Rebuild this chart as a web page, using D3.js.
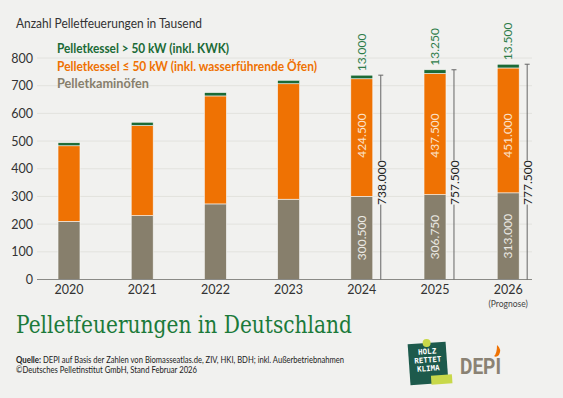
<!DOCTYPE html>
<html>
<head>
<meta charset="utf-8">
<script src="https://cdn.jsdelivr.net/npm/d3@7"></script>
<style>
  body { margin: 0; background: #f1f1ef; }
  svg { display: block; font-family: Lato, "Open Sans", sans-serif; }
</style>
</head>
<body>
<svg width="563" height="398"></svg>
<script>
// Data (thousand units)
const years = ["2020", "2021", "2022", "2023", "2024", "2025", "2026"];
const kaminoefen = [210, 231, 273, 290, 300.5, 306.75, 313];
const kesselSmall = [273, 325, 390, 417, 424.5, 437.5, 451];
const kesselBig = [11, 12, 12, 12.5, 13, 13.25, 13.5];
const yTicks = [0, 100, 200, 300, 400, 500, 600, 700, 800];
// years that get value labels
const labelled = ["2024", "2025", "2026"];

const svg = d3.select("svg");
const colGreen = "#1b6a36";
const colOrange = "#ef7203";
const colGrey = "#877f6c";

// German thousands style: 300.5 -> "300.500"
const de = (v) => {
  const n = Math.round(v * 1000);
  return d3.format(",")(n).replace(/,/g, ".");
};

const rows = years.map((y, i) => ({
  year: y,
  grey: kaminoefen[i],
  orange: kesselSmall[i],
  green: kesselBig[i],
  total: kaminoefen[i] + kesselSmall[i] + kesselBig[i]
}));

const x = d3.scaleBand()
  .domain(years)
  .range([32.4, 544.8])
  .paddingInner(0.7)
  .paddingOuter(0.35);

const y = d3.scaleLinear()
  .domain([0, 800])
  .range([279.5, 58]);

// gridlines
svg.append("g")
  .selectAll("line")
  .data(yTicks.slice(1))
  .enter()
  .append("line")
  .attr("x1", 37)
  .attr("x2", 532)
  .attr("y1", d => y(d))
  .attr("y2", d => y(d))
  .attr("stroke", "#e2e2de")
  .attr("stroke-width", 1);

// y axis labels
const yAxis = d3.axisLeft(y).tickValues(yTicks).tickSize(0).tickPadding(0);
svg.append("g")
  .attr("transform", "translate(33,0)")
  .call(yAxis)
  .call(g => g.select(".domain").remove())
  .call(g => g.selectAll("text")
    .attr("font-size", 12.5)
    .attr("fill", "#333")
    .attr("font-family", "Lato, sans-serif"));

// stacked bars
const stack = d3.stack().keys(["grey", "orange", "green"])(rows);
const colors = { grey: colGrey, orange: colOrange, green: colGreen };

svg.append("g")
  .selectAll("g")
  .data(stack)
  .enter()
  .append("g")
  .attr("fill", d => colors[d.key])
  .selectAll("rect")
  .data(d => d)
  .enter()
  .append("rect")
  .attr("x", d => x(d.data.year))
  .attr("width", x.bandwidth())
  .attr("y", d => y(d[1]))
  .attr("height", d => y(d[0]) - y(d[1]))
  .attr("stroke", "#f6f6f4")
  .attr("stroke-width", 0.6);

// x axis
const xAxis = d3.axisBottom(x).tickSize(0).tickPadding(6);
svg.append("g")
  .attr("transform", `translate(0, ${y(0)})`)
  .call(xAxis)
  .call(g => g.select(".domain").remove())
  .call(g => g.selectAll("text")
    .attr("font-size", 12.5)
    .attr("fill", "#333")
    .attr("font-family", "Lato, sans-serif"));

svg.append("line")
  .attr("x1", 37)
  .attr("x2", 532)
  .attr("y1", y(0))
  .attr("y2", y(0))
  .attr("stroke", "#8a8a86")
  .attr("stroke-width", 1);

svg.append("text")
  .attr("x", x("2026") + x.bandwidth() / 2)
  .attr("y", 306.5)
  .attr("text-anchor", "middle")
  .attr("font-size", 8.5)
  .attr("fill", "#444")
  .text("(Prognose)");

// value labels for the last three years
const lab = rows.filter(d => labelled.includes(d.year));

const vText = (sel, cx, cy, txt, fill, anchor) => {
  sel.append("text")
    .attr("transform", `translate(${cx},${cy}) rotate(-90)`)
    .attr("text-anchor", anchor)
    .attr("dy", "0.35em")
    .attr("font-size", 12)
    .attr("fill", fill)
    .text(txt);
};

const labels = svg.append("g");
lab.forEach(d => {
  const cx = x(d.year) + x.bandwidth() / 2;
  // inside bars
  vText(labels, cx, (y(0) + y(d.grey)) / 2, de(d.grey), "#eceae4", "middle");
  vText(labels, cx, y(520), de(d.orange), "#fbe3cc", "middle");
  // green on top
  vText(labels, cx, y(d.total) - 4, de(d.green), "#2e7d4a", "start");

  // total bracket
  const lx = x(d.year) + x.bandwidth() + 8;
  const ty = y(350);
  labels.append("line")
    .attr("x1", lx).attr("x2", lx)
    .attr("y1", y(d.total)).attr("y2", ty - 22)
    .attr("stroke", "#666").attr("stroke-width", 1);
  labels.append("line")
    .attr("x1", lx).attr("x2", lx)
    .attr("y1", ty + 22).attr("y2", y(0))
    .attr("stroke", "#666").attr("stroke-width", 1);
  labels.append("line")
    .attr("x1", lx - 2.5).attr("x2", lx + 2.5)
    .attr("y1", y(d.total)).attr("y2", y(d.total))
    .attr("stroke", "#666").attr("stroke-width", 1);
  vText(labels, lx + 1, ty, de(d.total), "#222", "middle");
});

// y axis title
svg.append("text")
  .attr("x", 16)
  .attr("y", 28)
  .attr("font-size", 12.5)
  .attr("fill", "#333")
  .attr("textLength", 186)
  .attr("lengthAdjust", "spacingAndGlyphs")
  .text("Anzahl Pelletfeuerungen in Tausend");

// legend
const legend = [
  { t: "Pelletkessel > 50 kW (inkl. KWK)", c: colGreen, w: 172 },
  { t: "Pelletkessel \u2264 50 kW (inkl. wasserführende Öfen)", c: colOrange, w: 260 },
  { t: "Pelletkaminöfen", c: colGrey, w: 92 }
];
svg.append("g")
  .selectAll("text")
  .data(legend)
  .enter()
  .append("text")
  .attr("x", 57)
  .attr("y", (d, i) => 53 + i * 17.5)
  .attr("font-size", 12.5)
  .attr("font-weight", "bold")
  .attr("fill", d => d.c)
  .attr("textLength", d => d.w)
  .attr("lengthAdjust", "spacingAndGlyphs")
  .text(d => d.t);

// title
svg.append("text")
  .attr("x", 16)
  .attr("y", 333)
  .attr("font-family", "'DejaVu Serif', serif")
  .attr("font-size", 25)
  .attr("fill", "#1b7a3a")
  .attr("textLength", 336)
  .attr("lengthAdjust", "spacingAndGlyphs")
  .text("Pelletfeuerungen in Deutschland");

// source
svg.append("text")
  .attr("x", 16)
  .attr("y", 363)
  .attr("font-size", 8.5)
  .attr("font-weight", "bold")
  .attr("fill", "#222")
  .attr("textLength", 25)
  .attr("lengthAdjust", "spacingAndGlyphs")
  .text("Quelle:");
svg.append("text")
  .attr("x", 43)
  .attr("y", 363)
  .attr("font-size", 8.5)
  .attr("fill", "#222")
  .attr("textLength", 301)
  .attr("lengthAdjust", "spacingAndGlyphs")
  .text("DEPI auf Basis der Zahlen von Biomasseatlas.de, ZIV, HKI, BDH; inkl. Außerbetriebnahmen");
svg.append("text")
  .attr("x", 16)
  .attr("y", 373)
  .attr("font-size", 8.5)
  .attr("fill", "#222")
  .attr("textLength", 181)
  .attr("lengthAdjust", "spacingAndGlyphs")
  .text("©Deutsches Pelletinstitut GmbH, Stand Februar 2026");

// logos
const logo = svg.append("g").attr("transform", "translate(428,363) rotate(-4)");
logo.append("rect")
  .attr("x", -19).attr("y", -20).attr("width", 38).attr("height", 41)
  .attr("fill", "#1d5a4c");
logo.append("circle").attr("cx", 0).attr("cy", -20).attr("r", 4).attr("fill", "#c8d84a");
["HOLZ", "RETTET", "KLIMA"].forEach((t, i) => {
  logo.append("text")
    .attr("x", 0).attr("y", -9 + i * 8.5)
    .attr("text-anchor", "middle")
    .attr("font-size", 7.5)
    .attr("font-weight", "bold")
    .attr("font-family", "'DejaVu Sans Mono', monospace")
    .attr("fill", "#fff")
    .text(t);
});
logo.append("rect")
  .attr("x", 2).attr("y", 13).attr("width", 21).attr("height", 9)
  .attr("fill", "#c8d84a");

svg.append("text")
  .attr("x", 460)
  .attr("y", 374)
  .attr("font-size", 22)
  .attr("font-weight", "bold")
  .attr("font-family", "Roboto, sans-serif")
  .attr("fill", "#8a8274")
  .attr("textLength", 41)
  .attr("lengthAdjust", "spacingAndGlyphs")
  .text("DEPI");
svg.append("path")
  .attr("d", "M497,345 q5,4 2,10 q-3,3 -5,1 q3,-2 3,-11 z")
  .attr("fill", "#ef7203");
</script>
</body>
</html>
